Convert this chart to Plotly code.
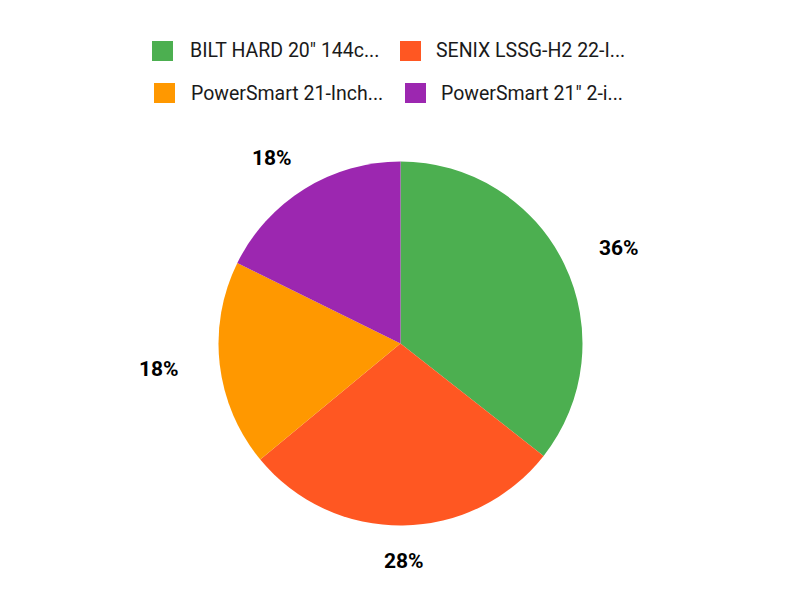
import math
import plotly.graph_objects as go

labels = ['BILT HARD 20" 144c...', 'SENIX LSSG-H2 22-I...', 'PowerSmart 21-Inch...', 'PowerSmart 21" 2-i...']
values = [35.6, 28.4, 18.3, 17.7]
colors = ["#4CAF50", "#FF5722", "#FF9800", "#9C27B0"]

W, H = 800, 600
cx, cy, r = 400.5, 343.5, 182   # pie centre / radius (px)
lab_a, lab_b = 243, 218         # horizontal / vertical reach of the label ring (px)

fig = go.Figure()
fig.add_trace(go.Pie(
    labels=labels, values=values, sort=False, direction="clockwise", rotation=0,
    marker=dict(colors=colors, line=dict(width=0)),
    textinfo="none",
    domain=dict(x=[(cx - r) / W, (cx + r) / W], y=[1 - (cy + r) / H, 1 - (cy - r) / H]),
    showlegend=False, hoverinfo="skip",
))

annotations = []
# percentage labels outside the slices, placed at each slice's mid-angle
total = sum(values)
cum = 0.0
for v in values:
    mid = (cum + v / 2) / total * 2 * math.pi
    cum += v
    px = cx + lab_a * math.sin(mid)
    py = cy - lab_b * math.cos(mid)
    annotations.append(dict(text=f"{round(v / total * 100)}%", xref="paper", yref="paper",
                            x=px / W, y=1 - py / H, xanchor="center", yanchor="middle",
                            showarrow=False,
                            font=dict(family="Roboto", size=21, color="#000000", weight="bold")))

# manual legend (2 rows x 2 columns)
legend_pos = [(152, 41), (400, 41), (154, 83), (405, 83)]
text_x = [188, 434, 189, 439]
shapes = []
for i, (lab, col) in enumerate(zip(labels, colors)):
    x0, y0 = legend_pos[i]
    shapes.append(dict(type="rect", xref="paper", yref="paper",
                       x0=x0 / W, x1=(x0 + 21) / W, y0=1 - y0 / H, y1=1 - (y0 + 20) / H,
                       fillcolor=col, line=dict(width=0)))
    annotations.append(dict(text=lab, xref="paper", yref="paper",
                            x=text_x[i] / W, y=1 - (y0 + 10) / H, xanchor="left", yanchor="middle",
                            showarrow=False, font=dict(family="Roboto", size=19.5, color="#1a1a1a")))

fig.update_layout(
    width=W, height=H,
    margin=dict(l=0, r=0, t=0, b=0),
    paper_bgcolor="white", plot_bgcolor="white",
    shapes=shapes, annotations=annotations,
)

fig.write_html("out.html", config={"displayModeBar": False},
               post_script="document.body.style.margin='0';")
